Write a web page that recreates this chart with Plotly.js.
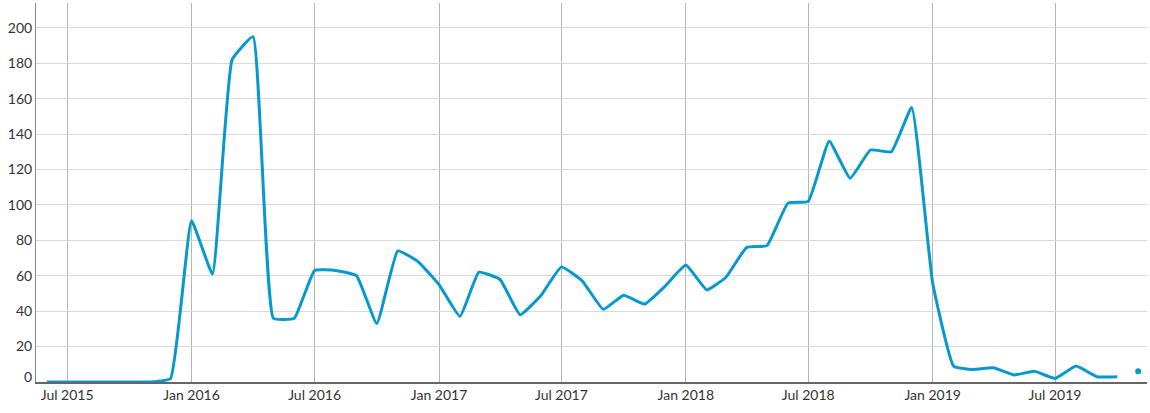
<!DOCTYPE html>
<html>
<head>
<meta charset="utf-8">
<script src="https://cdn.plot.ly/plotly-3.0.1.min.js"></script>
<style>
  html, body { margin: 0; padding: 0; background: #fff; }
  #chart { width: 1150px; height: 413px; }
</style>
</head>
<body>
<div id="chart"></div>
<script>
// Monthly series (first day of each month)
const months = [
  "2015-06-01","2015-07-01","2015-08-01","2015-09-01","2015-10-01","2015-11-01","2015-12-01",
  "2016-01-01","2016-02-01","2016-03-01","2016-04-01","2016-05-01","2016-06-01",
  "2016-07-01","2016-08-01","2016-09-01","2016-10-01","2016-11-01","2016-12-01",
  "2017-01-01","2017-02-01","2017-03-01","2017-04-01","2017-05-01","2017-06-01",
  "2017-07-01","2017-08-01","2017-09-01","2017-10-01","2017-11-01","2017-12-01",
  "2018-01-01","2018-02-01","2018-03-01","2018-04-01","2018-05-01","2018-06-01",
  "2018-07-01","2018-08-01","2018-09-01","2018-10-01","2018-11-01","2018-12-01",
  "2019-01-01","2019-02-01","2019-03-01","2019-04-01","2019-05-01","2019-06-01",
  "2019-07-01","2019-08-01","2019-09-01","2019-10-01"
];
const values = [
  0, 0, 0, 0, 0, 0, 2,
  91, 61, 182, 195, 36, 36,
  63, 63, 60, 33, 74, 68,
  55, 37, 62, 58, 38, 49,
  65, 57, 41, 49, 44, 54,
  66, 52, 59, 76, 77, 101,
  102, 136, 115, 131, 130, 155,
  56, 9, 7, 8, 4, 6,
  2, 9, 3, 3
];
// Current (partial) month shown as a lone point
const currentMonth = ["2019-11-01"];
const currentValue = [6];

const yTickVals = [20, 40, 60, 80, 100, 120, 140, 160, 180, 200];
const zeroLabel = "0";

const lineColor = "#0599cf";
const fontFamily = "Lato, 'Open Sans', sans-serif";

const traces = [
  {
    x: months, y: values, type: "scatter", mode: "lines",
    line: { color: lineColor, width: 3, shape: "spline", smoothing: 0.35 },
    hoverinfo: "x+y", showlegend: false
  },
  {
    x: currentMonth, y: currentValue, type: "scatter", mode: "markers",
    marker: { color: lineColor, size: 6 },
    showlegend: false
  }
];

const layout = {
  width: 1150, height: 413,
  margin: { l: 36, r: 3, t: 3, b: 31 },
  paper_bgcolor: "#fff", plot_bgcolor: "#fff",
  font: { family: fontFamily, size: 14, color: "#333" },
  showlegend: false,
  xaxis: {
    type: "date",
    range: ["2015-05-16", "2019-11-14"],
    tick0: "2015-07-01", dtick: "M6",
    tickformat: "%b %Y",
    showgrid: true, gridcolor: "#b5b5b5", gridwidth: 1,
    showline: true, linecolor: "#666", linewidth: 1.5,
    ticks: "", zeroline: false,
    tickfont: { family: fontFamily, size: 14, color: "#333" }
  },
  yaxis: {
    range: [0, 214],
    tickmode: "array", tickvals: yTickVals,
    showgrid: true, gridcolor: "#d9d9d9", gridwidth: 1,
    showline: true, linecolor: "#888", linewidth: 1,
    ticks: "", zeroline: false,
    tickfont: { family: fontFamily, size: 14, color: "#333" }
  },
  annotations: [
    {
      xref: "paper", yref: "y", x: 0, y: 0, text: zeroLabel,
      showarrow: false, xanchor: "right", yanchor: "middle",
      xshift: -2, yshift: 6,
      font: { family: fontFamily, size: 14, color: "#333" }
    }
  ]
};

Plotly.newPlot("chart", traces, layout, { displayModeBar: false, staticPlot: true });
</script>
</body>
</html>
